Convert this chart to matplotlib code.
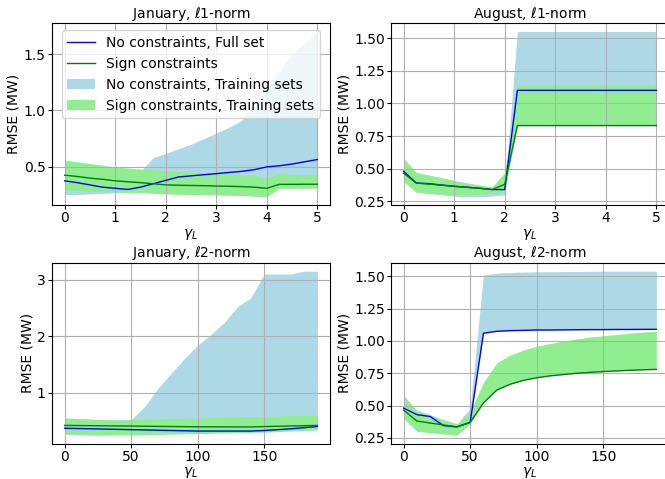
import numpy as np
import matplotlib
matplotlib.use("Agg")
import matplotlib.pyplot as plt

# ---------- data ----------
x_l1 = [0, 0.25, 0.5, 0.75, 1, 1.25, 1.5, 1.75, 2, 2.25, 2.5, 2.75, 3, 3.25, 3.5, 3.75, 4, 4.25, 4.5, 4.75, 5]
x_l2 = [0, 10, 20, 30, 40, 50, 60, 70, 80, 90, 100, 110, 120, 130, 140, 150, 160, 170, 180, 190]

# January, l1
jan1_full = [0.376, 0.36, 0.34, 0.32, 0.31, 0.30, 0.32, 0.35, 0.38, 0.41, 0.42, 0.43, 0.44, 0.45, 0.46, 0.475, 0.50, 0.51, 0.525, 0.545, 0.565]
jan1_sign = [0.426, 0.415, 0.40, 0.39, 0.376, 0.368, 0.36, 0.35, 0.34, 0.337, 0.335, 0.333, 0.33, 0.328, 0.325, 0.32, 0.31, 0.345, 0.345, 0.346, 0.346]
jan1_nc_lo = [0.255, 0.255, 0.26, 0.265, 0.27, 0.275, 0.28, 0.29, 0.30, 0.30, 0.30, 0.30, 0.30, 0.30, 0.30, 0.30, 0.30, 0.33, 0.34, 0.345, 0.35]
jan1_nc_hi = [0.45, 0.44, 0.43, 0.42, 0.42, 0.43, 0.46, 0.58, 0.62, 0.66, 0.70, 0.75, 0.80, 0.85, 0.91, 1.05, 1.2, 1.35, 1.5, 1.6, 1.7]
jan1_sc_lo = [0.29, 0.29, 0.285, 0.28, 0.28, 0.275, 0.27, 0.265, 0.26, 0.257, 0.255, 0.252, 0.25, 0.248, 0.245, 0.24, 0.235, 0.31, 0.31, 0.31, 0.31]
jan1_sc_hi = [0.56, 0.545, 0.53, 0.515, 0.50, 0.49, 0.48, 0.475, 0.465, 0.46, 0.455, 0.45, 0.445, 0.44, 0.43, 0.425, 0.40, 0.44, 0.435, 0.43, 0.43]

# August, l1
aug1_full = [0.48, 0.39, 0.385, 0.375, 0.365, 0.358, 0.35, 0.34, 0.34, 1.10, 1.10, 1.10, 1.10, 1.10, 1.10, 1.10, 1.10, 1.10, 1.10, 1.10, 1.10]
aug1_sign = [0.465, 0.39, 0.382, 0.373, 0.365, 0.357, 0.35, 0.34, 0.38, 0.83, 0.83, 0.83, 0.83, 0.83, 0.83, 0.83, 0.83, 0.83, 0.83, 0.83, 0.83]
aug1_nc_lo = [0.42, 0.33, 0.31, 0.30, 0.29, 0.285, 0.285, 0.29, 0.30, 1.10, 1.10, 1.10, 1.10, 1.10, 1.10, 1.10, 1.10, 1.10, 1.10, 1.10, 1.10]
aug1_nc_hi = [0.50, 0.47, 0.45, 0.43, 0.41, 0.39, 0.37, 0.35, 0.35, 1.55, 1.55, 1.55, 1.55, 1.55, 1.55, 1.55, 1.55, 1.55, 1.55, 1.55, 1.55]
aug1_sc_lo = [0.40, 0.32, 0.31, 0.305, 0.30, 0.30, 0.305, 0.31, 0.32, 0.83, 0.83, 0.83, 0.83, 0.83, 0.83, 0.83, 0.83, 0.83, 0.83, 0.83, 0.83]
aug1_sc_hi = [0.58, 0.47, 0.45, 0.43, 0.41, 0.39, 0.375, 0.36, 0.47, 1.14, 1.14, 1.14, 1.14, 1.14, 1.14, 1.14, 1.14, 1.14, 1.14, 1.14, 1.14]

# January, l2
jan2_full = [0.37, 0.365, 0.36, 0.355, 0.35, 0.345, 0.34, 0.335, 0.33, 0.325, 0.32, 0.32, 0.32, 0.32, 0.32, 0.33, 0.345, 0.36, 0.38, 0.40]
jan2_sign = [0.42, 0.418, 0.415, 0.413, 0.41, 0.408, 0.405, 0.403, 0.40, 0.398, 0.396, 0.395, 0.394, 0.393, 0.393, 0.40, 0.405, 0.41, 0.415, 0.42]
jan2_nc_lo = [0.26, 0.25, 0.245, 0.245, 0.25, 0.25, 0.26, 0.27, 0.28, 0.29, 0.30, 0.30, 0.30, 0.30, 0.31, 0.32, 0.33, 0.35, 0.37, 0.39]
jan2_nc_hi = [0.55, 0.54, 0.53, 0.52, 0.52, 0.52, 0.75, 1.07, 1.34, 1.6, 1.84, 2.03, 2.24, 2.52, 2.68, 3.1, 3.1, 3.1, 3.15, 3.15]
jan2_sc_lo = [0.28, 0.27, 0.265, 0.26, 0.255, 0.255, 0.255, 0.26, 0.265, 0.27, 0.275, 0.28, 0.285, 0.29, 0.295, 0.30, 0.31, 0.32, 0.33, 0.34]
jan2_sc_hi = [0.55, 0.54, 0.53, 0.52, 0.515, 0.52, 0.53, 0.535, 0.54, 0.545, 0.55, 0.555, 0.56, 0.57, 0.575, 0.58, 0.585, 0.59, 0.595, 0.60]

# August, l2
aug2_full = [0.48, 0.43, 0.415, 0.345, 0.335, 0.37, 1.06, 1.075, 1.08, 1.082, 1.085, 1.085, 1.086, 1.087, 1.088, 1.088, 1.089, 1.089, 1.09, 1.09]
aug2_sign = [0.465, 0.38, 0.365, 0.35, 0.335, 0.37, 0.52, 0.62, 0.665, 0.695, 0.715, 0.73, 0.74, 0.75, 0.757, 0.763, 0.768, 0.773, 0.777, 0.78]
aug2_nc_lo = [0.45, 0.41, 0.39, 0.33, 0.32, 0.36, 1.06, 1.075, 1.08, 1.082, 1.085, 1.085, 1.086, 1.087, 1.088, 1.088, 1.089, 1.089, 1.09, 1.09]
aug2_nc_hi = [0.50, 0.465, 0.43, 0.39, 0.355, 0.48, 1.51, 1.525, 1.53, 1.533, 1.535, 1.536, 1.537, 1.538, 1.539, 1.54, 1.54, 1.54, 1.54, 1.54]
aug2_sc_lo = [0.40, 0.30, 0.29, 0.28, 0.27, 0.36, 0.52, 0.62, 0.665, 0.695, 0.715, 0.73, 0.74, 0.75, 0.757, 0.763, 0.768, 0.773, 0.777, 0.78]
aug2_sc_hi = [0.58, 0.46, 0.42, 0.39, 0.36, 0.45, 0.68, 0.83, 0.89, 0.93, 0.96, 0.98, 1.0, 1.015, 1.03, 1.04, 1.05, 1.06, 1.07, 1.075]

titles = ["January, $\\ell$1-norm", "August, $\\ell$1-norm", "January, $\\ell$2-norm", "August, $\\ell$2-norm"]
labels = ["No constraints, Full set", "Sign constraints",
          "No constraints, Training sets", "Sign constraints, Training sets"]

panels = [
    (x_l1, jan1_full, jan1_sign, jan1_nc_lo, jan1_nc_hi, jan1_sc_lo, jan1_sc_hi),
    (x_l1, aug1_full, aug1_sign, aug1_nc_lo, aug1_nc_hi, aug1_sc_lo, aug1_sc_hi),
    (x_l2, jan2_full, jan2_sign, jan2_nc_lo, jan2_nc_hi, jan2_sc_lo, jan2_sc_hi),
    (x_l2, aug2_full, aug2_sign, aug2_nc_lo, aug2_nc_hi, aug2_sc_lo, aug2_sc_hi),
]

plt.rcParams['font.family'] = ['DejaVu Sans']
fig = plt.figure(figsize=(6.65, 4.79), dpi=100)
W, H = 665.0, 479.0
positions = [
    (52 / W, 1 - 205 / H, 278 / W, 181.7 / H),
    (391 / W, 1 - 205 / H, 278 / W, 181.7 / H),
    (52 / W, 1 - 443.5 / H, 278 / W, 180.5 / H),
    (391 / W, 1 - 443.5 / H, 278 / W, 180.5 / H),
]

for i, (pos, data, title) in enumerate(zip(positions, panels, titles)):
    x, full, sign, nlo, nhi, slo, shi = data
    ax = fig.add_axes(pos)
    f1 = ax.fill_between(x, nlo, nhi, color='lightblue', linewidth=0, label=labels[2])
    f2 = ax.fill_between(x, slo, shi, color='lightgreen', linewidth=0, label=labels[3])
    l1, = ax.plot(x, full, color='blue', linewidth=1, label=labels[0])
    l2, = ax.plot(x, sign, color='green', linewidth=1, label=labels[1])
    ax.grid(True, color='#b0b0b0', linewidth=0.8)
    ax.set_title(title, fontsize=10, pad=4)
    ax.set_ylabel("RMSE (MW)", fontsize=10, labelpad=2)
    ax.set_xlabel("$\\gamma_L$", fontsize=10, labelpad=1)
    ax.tick_params(labelsize=10, length=3, pad=1.5)
    if i == 0:
        ax.legend(handles=[l1, l2, f1, f2], loc='upper center', fontsize=10)
    if i in (1, 3):
        ax.set_yticks([0.25, 0.5, 0.75, 1.0, 1.25, 1.5])
        ax.set_yticklabels(["0.25", "0.50", "0.75", "1.00", "1.25", "1.50"])
    if i == 0:
        ax.set_yticks([0.5, 1.0, 1.5])
    if i == 2:
        ax.set_yticks([1, 2, 3])
    if i in (2, 3):
        ax.set_xticks([0, 50, 100, 150])

fig.savefig("out.png", dpi=100)
